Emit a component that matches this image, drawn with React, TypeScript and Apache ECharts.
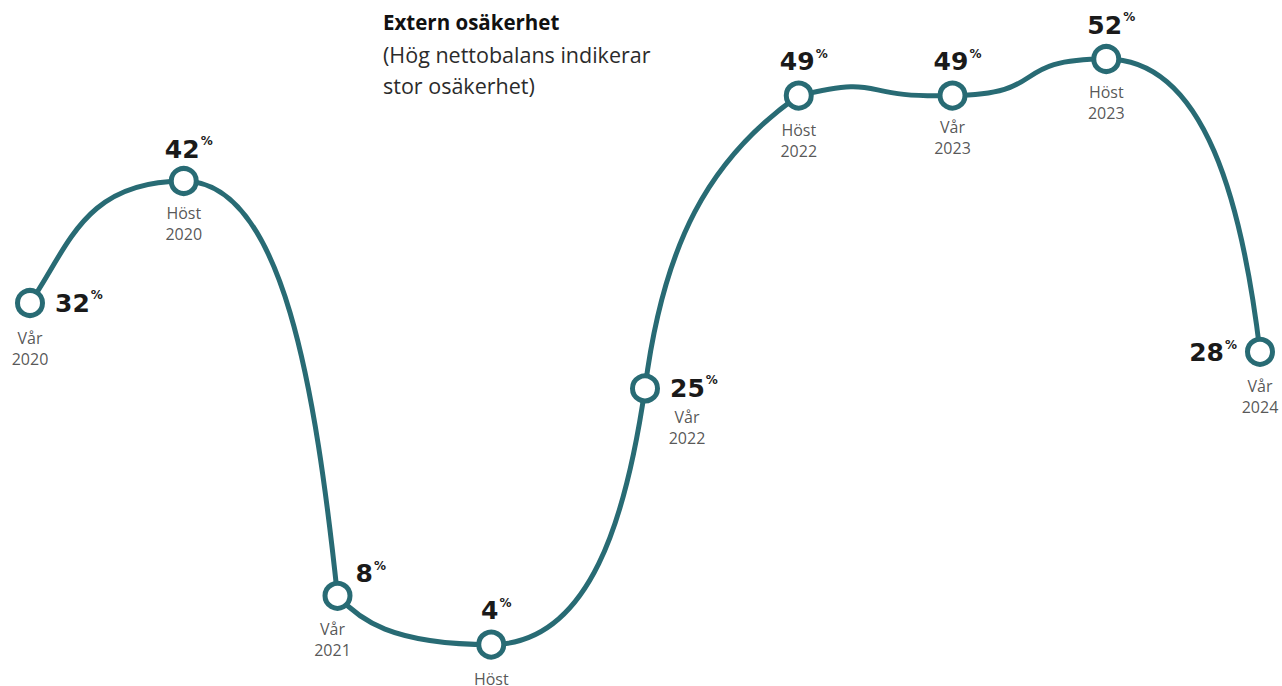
import React, { useEffect, useRef } from "react";
import * as echarts from "echarts";

const categories = ["Vår\n2020", "Höst\n2020", "Vår\n2021", "Höst\n2021", "Vår\n2022", "Höst\n2022", "Vår\n2023", "Höst\n2023", "Vår\n2024"];
const values = [32, 42, 8, 4, 25, 49, 49, 52, 28];
const titleText = "Extern osäkerhet";
const subtitleLines = ["(Hög nettobalans indikerar", "stor osäkerhet)"];

const LINE = "#286b74";
const FONT = "'Open Sans', 'DejaVu Sans', sans-serif";
const NUMFONT = "'DejaVu Sans', sans-serif";
// curve smoothing parameters
const STRETCH = 3;
const FLAT_STRETCH = 0.5;
const HANDLE_X = 0.65;
const HANDLE_Y = 0.5;
const HANDLE_FLAT_Y = 0.5;

// label placements per point (style only)
const valuePos: any[] = [
  { position: "right", distance: 10, offset: [0, 0] },
  { position: "top", distance: 3, offset: [5, 0] },
  { position: "right", distance: 3, offset: [0, -22] },
  { position: "top", distance: 5, offset: [5, 0] },
  { position: "right", distance: 10, offset: [0, 0] },
  { position: "top", distance: 5, offset: [5, 0] },
  { position: "top", distance: 5, offset: [5, 0] },
  { position: "top", distance: 5, offset: [5, 0] },
  { position: "left", distance: 8, offset: [0, 1] },
];
const catPos: any[] = [
  { distance: 24, offset: [0, 0] },
  { distance: 21, offset: [0, 0] },
  { distance: 22, offset: [-5, 0] },
  { distance: 23, offset: [0, 0] },
  { distance: 18, offset: [42, 0] },
  { distance: 23, offset: [0, 0] },
  { distance: 20, offset: [0, 0] },
  { distance: 22, offset: [0, 0] },
  { distance: 23, offset: [0, 0] },
];

// smooth path: horizontal tangents at extrema, gentle slope next to flat
// neighbours, otherwise direction of (next - prev) in a vertically stretched space.
function smoothPath(pts: number[][]) {
  const n = pts.length;
  const norm = (x: number, y: number) => {
    const l = Math.hypot(x, y) || 1;
    return [x / l, y / l];
  };
  const dirs: number[][] = pts.map((p, i) => {
    if (i === 0) return norm(pts[1][0] - p[0], STRETCH * (pts[1][1] - p[1]));
    if (i === n - 1) return norm(p[0] - pts[i - 1][0], STRETCH * (p[1] - pts[i - 1][1]));
    const a = p[1] - pts[i - 1][1];
    const b = pts[i + 1][1] - p[1];
    const vx = pts[i + 1][0] - pts[i - 1][0];
    const vy = pts[i + 1][1] - pts[i - 1][1];
    if (Math.abs(a) < 0.5 || Math.abs(b) < 0.5) return norm(vx, FLAT_STRETCH * vy);
    if (a * b < 0) return [1, 0];
    return norm(vx, STRETCH * vy);
  });
  let d = `M${pts[0][0]},${pts[0][1]}`;
  for (let i = 0; i < n - 1; i++) {
    const p = pts[i], q = pts[i + 1];
    const dx = Math.abs(q[0] - p[0]);
    const dy = Math.abs(q[1] - p[1]);
    const hx = dx * HANDLE_X;
    const hy = dy < 1 ? hx * HANDLE_FLAT_Y : dy * HANDLE_Y;
    const u = dirs[i], v = dirs[i + 1];
    const c1 = [p[0] + u[0] * hx, p[1] + u[1] * hy];
    const c2 = [q[0] - v[0] * hx, q[1] - v[1] * hy];
    d += ` C${c1[0]},${c1[1]} ${c2[0]},${c2[1]} ${q[0]},${q[1]}`;
  }
  return d;
}

export default function App() {
  const ref = useRef<HTMLDivElement>(null);
  useEffect(() => {
    if (!ref.current) return;
    const chart = echarts.init(ref.current, undefined, { renderer: "svg" });
    const option: any = {
      animation: false,
      backgroundColor: "#ffffff",
      grid: { left: 30, right: 22, top: 22.4, height: 658.8, outerBoundsMode: "none" },
      xAxis: { type: "category", data: categories, boundaryGap: false, show: false },
      yAxis: { type: "value", min: 1, max: 55, show: false },
      graphic: [
        {
          type: "text",
          left: 383,
          top: 11,
          style: { text: titleText, font: `bold 20.5px ${FONT}`, fill: "#111" },
        },
        {
          type: "text",
          left: 383,
          top: 39,
          style: {
            text: subtitleLines.join("\n"),
            font: `21.5px ${FONT}`,
            lineHeight: 31,
            fill: "#2b2b2b",
          },
        },
      ],
      series: [
        {
          type: "custom",
          data: values.map((v, i) => [i, v]),
          encode: { x: 0, y: 1 },
          clip: false,
          silent: true,
          z: 2,
          renderItem: (params: any, api: any) => {
            if (params.dataIndex !== 0) return null;
            const pts = values.map((v, i) => api.coord([i, v]));
            return {
              type: "path",
              shape: { pathData: smoothPath(pts) },
              style: { stroke: LINE, lineWidth: 5, fill: "none", lineJoin: "round" },
            };
          },
        },
        {
          type: "scatter",
          data: values.map((v, i) => ({
            value: [i, v],
            label: {
              show: true,
              position: "bottom",
              distance: catPos[i].distance,
              offset: catPos[i].offset,
              formatter: categories[i],
            },
          })),
          symbol: "circle",
          symbolSize: 1,
          itemStyle: { color: "rgba(0,0,0,0)" },
          label: {
            color: "#2b2b2b",
            fontFamily: FONT,
            fontSize: 16,
            lineHeight: 21,
            align: "center",
          },
          z: 3,
          silent: true,
        },
        {
          type: "scatter",
          data: values.map((v, i) => ({
            value: [i, v],
            label: {
              show: true,
              position: valuePos[i].position,
              distance: valuePos[i].distance,
              offset: valuePos[i].offset,
              formatter: `{v|${v}}{p|%}`,
            },
          })),
          symbol: "circle",
          symbolSize: 25,
          itemStyle: { color: "#ffffff", borderColor: LINE, borderWidth: 5, opacity: 1 },
          label: {
            rich: {
              v: { fontFamily: NUMFONT, fontWeight: "bold", fontSize: 25, lineHeight: 28, color: "#1a1a1a" },
              p: {
                fontFamily: NUMFONT,
                fontWeight: "bold",
                fontSize: 12,
                lineHeight: 12,
                verticalAlign: "top",
                color: "#1a1a1a",
                padding: [0, 0, 0, 1],
              },
            },
          },
          z: 4,
          silent: true,
        },
      ],
    };
    chart.setOption(option);
    return () => chart.dispose();
  }, []);
  return <div ref={ref} style={{ position: "fixed", left: 0, top: 0, width: 1282, height: 686 }} />;
}
